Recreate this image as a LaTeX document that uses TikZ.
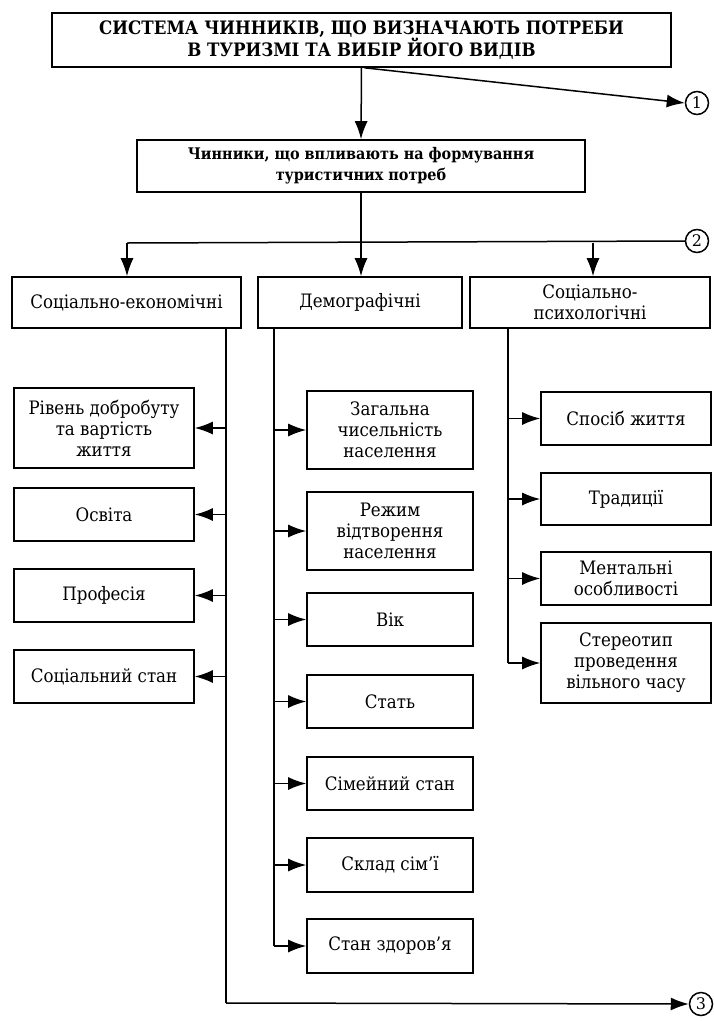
\documentclass[tikz,border=0pt]{standalone}
\usepackage{fontspec}
\setmainfont{DejaVu Serif}
\newfontfamily\cond{DejaVu Serif Condensed}
\usetikzlibrary{arrows.meta,calc}
\begin{document}
\begin{tikzpicture}[x=1pt,y=-1pt,
  box/.style={draw, line width=1.6pt, align=center, inner sep=1pt, font=\cond\fontsize{18.5}{21}\selectfont},
  arr/.style={line width=1.5pt, -{Latex[length=18pt,width=13pt]}},
  ln/.style={line width=1.5pt},
  circ/.style={draw, circle, line width=1.5pt, minimum size=23pt, inner sep=0pt, font=\fontsize{16}{16}\selectfont}]
\useasboundingbox (0,0) rectangle (713,1021);
% top
\node[box, minimum width=619pt, minimum height=54pt, font=\cond\bfseries\fontsize{18.5}{21}\selectfont] (top) at (361.5,40) {СИСТЕМА ЧИННИКІВ, ЩО ВИЗНАЧАЮТЬ ПОТРЕБИ\\В ТУРИЗМІ ТА ВИБІР ЙОГО ВИДІВ};
\node[box, minimum width=448pt, minimum height=52pt, font=\cond\bfseries\fontsize{16}{21}\selectfont] (sec) at (361,166) {Чинники, що впливають на формування\\туристичних потреб};
\node[circ] (c1) at (697,103) {1};
\node[circ] (c2) at (697,241) {2};
\node[circ] (c3) at (701,1004) {3};
% row
\node[box, minimum width=229pt, minimum height=51pt] (se) at (126.5,302.5) {Соціально-економічні};
\node[box, minimum width=204pt, minimum height=51pt] (dem) at (360,302.5) {Демографічні};
\node[box, minimum width=240pt, minimum height=51pt] (psy) at (590,302.5) {Соціально-\\психологічні};
% left column
\node[box, minimum width=180pt, minimum height=80pt] (l1) at (104,428) {Рівень добробуту\\та вартість\\життя};
\node[box, minimum width=180pt, minimum height=53pt] (l2) at (104,514.5) {Освіта};
\node[box, minimum width=180pt, minimum height=53pt] (l3) at (104,595.5) {Професія};
\node[box, minimum width=180pt, minimum height=53pt] (l4) at (104,676.5) {Соціальний стан};
% middle column
\node[box, minimum width=166pt, minimum height=78pt] (m1) at (390,430) {Загальна\\чисельність\\населення};
\node[box, minimum width=166pt, minimum height=78pt] (m2) at (390,531) {Режим\\відтворення\\населення};
\node[box, minimum width=166pt, minimum height=53pt] (m3) at (390,619.5) {Вік};
\node[box, minimum width=166pt, minimum height=53pt] (m4) at (390,701.5) {Стать};
\node[box, minimum width=166pt, minimum height=53pt] (m5) at (390,783.5) {Сімейний стан};
\node[box, minimum width=166pt, minimum height=54pt] (m6) at (390,865) {Склад сім’ї};
\node[box, minimum width=166pt, minimum height=54pt] (m7) at (390,946) {Стан здоров’я};
% right column
\node[box, minimum width=170pt, minimum height=53pt] (r1) at (626,418.5) {Спосіб життя};
\node[box, minimum width=170pt, minimum height=52pt] (r2) at (626,499) {Традиції};
\node[box, minimum width=170pt, minimum height=53pt] (r3) at (626,578.5) {Ментальні\\особливості};
\node[box, minimum width=170pt, minimum height=80pt] (r4) at (626,663) {Стереотип\\проведення\\вільного часу};
% coordinates
\coordinate (lt) at (226,0);
\coordinate (mt) at (274,0);
\coordinate (rt) at (508,0);
\coordinate (hl) at (127,243);
\coordinate (hr) at (593,243);
\coordinate (bot) at (226,1003);
% connectors top
\draw[arr] (top.south) -- (sec.north);
\draw[arr] ($(top.south)+(3,0)$) -- (c1.west);
\draw[arr] (sec.south) -- (sec.south |- dem.north);
\draw[ln] (hl) -- (c2.west);
\draw[arr] (hl) -- (hl |- se.north);
\draw[arr] (hr) -- (hr |- psy.north);
% left trunk
\draw[ln] (se.south -| lt) -- (bot);
\draw[arr] (bot) -- (c3.west);
\foreach \n in {l1,l2,l3,l4} \draw[arr] (\n.east -| lt) -- (\n.east);
% middle trunk
\draw[ln] (dem.south -| mt) -- (m7.west -| mt);
\foreach \n in {m1,m2,m3,m4,m5,m6,m7} \draw[arr] (\n.west -| mt) -- (\n.west);
% right trunk
\draw[ln] (psy.south -| rt) -- (r4.west -| rt);
\foreach \n in {r1,r2,r3,r4} \draw[arr] (\n.west -| rt) -- (\n.west);
\end{tikzpicture}
\end{document}
